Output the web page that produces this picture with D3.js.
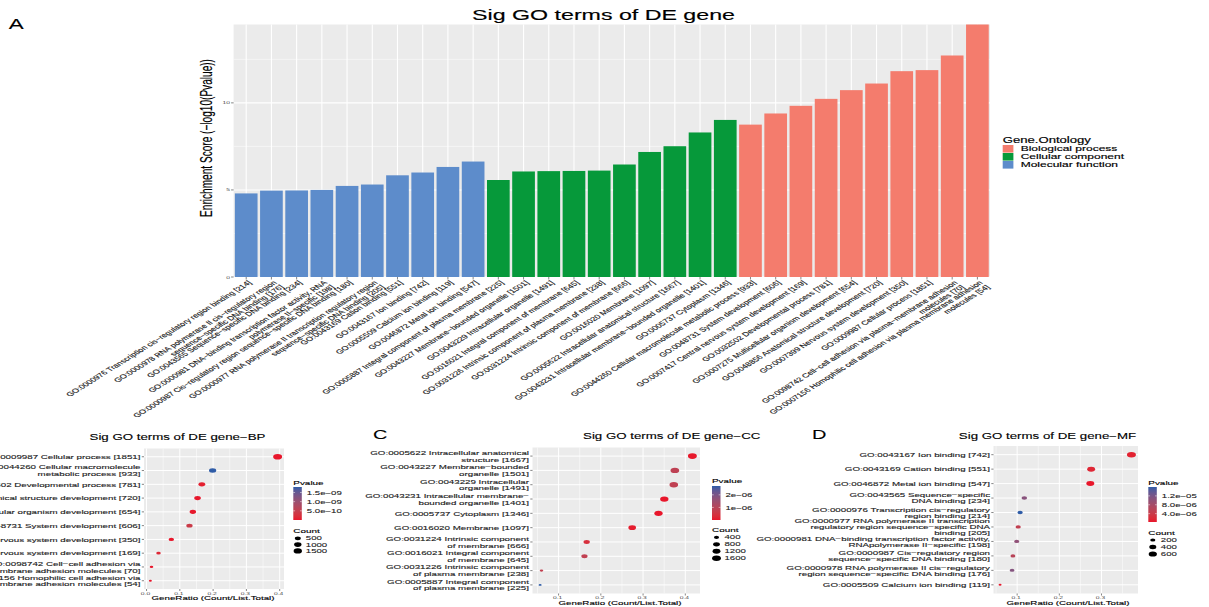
<!DOCTYPE html>
<html>
<head>
<meta charset="utf-8">
<script src="https://cdn.jsdelivr.net/npm/d3@7"></script>
<style>
    body { margin: 0; background: #fff; }
    svg { display: block; font-family: "Liberation Sans", Arial, Helvetica, sans-serif; }
</style>
</head>
<body>
<svg id="fig" width="1209" height="607"></svg>
<script>
// ---------------- data ----------------
var ontologies = ["Biological process", "Cellular component", "Molecular function"];
var ontologyColors = ["#F47C6D", "#06993A", "#5D8CCB"];

// Molecular function (bar order, ascending enrichment)
var mfBarLabels = [
    "GO:0000976 Transcription cis−regulatory region binding [214]",
    "GO:0000978 RNA polymerase II cis−regulatory region\nsequence−specific DNA binding [176]",
    "GO:0043565 Sequence−specific DNA binding [234]",
    "GO:0000981 DNA−binding transcription factor activity, RNA\npolymerase II−specific [198]",
    "GO:0000987 Cis−regulatory region sequence−specific DNA binding [180]",
    "GO:0000977 RNA polymerase II transcription regulatory region\nsequence−specific DNA binding [205]",
    "GO:0043169 Cation binding [551]",
    "GO:0043167 Ion binding [742]",
    "GO:0005509 Calcium ion binding [119]",
    "GO:0046872 Metal ion binding [547]"
];
var mfDotLabels = [
    "GO:0000976 Transcription cis−regulatory\nregion binding [214]",
    "GO:0000978 RNA polymerase II cis−regulatory\nregion sequence−specific DNA binding [176]",
    "GO:0043565 Sequence−specific\nDNA binding [234]",
    "GO:0000981 DNA−binding transcription factor activity,\nRNApolymerase II−specific [198]",
    "GO:0000987 Cis−regulatory region\nsequence−specific DNA binding [180]",
    "GO:0000977 RNA polymerase II transcription\nregulatory region sequence−specific DNA\nbinding [205]",
    "GO:0043169 Cation binding [551]",
    "GO:0043167 Ion binding [742]",
    "GO:0005509 Calcium ion binding [119]",
    "GO:0046872 Metal ion binding [547]"
];
var mfCounts = [214, 176, 234, 198, 180, 205, 551, 742, 119, 547];
var mfScores = [4.8, 4.96, 4.97, 5.0, 5.23, 5.31, 5.84, 6.0, 6.32, 6.63];
var mfPvalues = [1.6e-5, 1.1e-5, 1.07e-5, 1.0e-5, 5.9e-6, 4.9e-6, 1.4e-6, 1.0e-6, 4.8e-7, 2.3e-7];

// Cellular component
var ccBarLabels = [
    "GO:0005887 Integral component of plasma membrane [225]",
    "GO:0043227 Membrane−bounded organelle [1501]",
    "GO:0043229 Intracellular organelle [1491]",
    "GO:0016021 Integral component of membrane [645]",
    "GO:0031226 Intrinsic component of plasma membrane [238]",
    "GO:0031224 Intrinsic component of membrane [666]",
    "GO:0016020 Membrane [1097]",
    "GO:0005622 Intracellular anatomical structure [1667]",
    "GO:0043231 Intracellular membrane−bounded organelle [1401]",
    "GO:0005737 Cytoplasm [1346]"
];
var ccDotLabels = [
    "GO:0005887 Integral component\nof plasma membrane [225]",
    "GO:0043227 Membrane−bounded\norganelle [1501]",
    "GO:0043229 Intracellular\norganelle [1491]",
    "GO:0016021 Integral component\nof membrane [645]",
    "GO:0031226 Intrinsic component\nof plasma membrane [238]",
    "GO:0031224 Intrinsic component\nof membrane [666]",
    "GO:0016020 Membrane [1097]",
    "GO:0005622 Intracellular anatomical\nstructure [1667]",
    "GO:0043231 Intracellular membrane−\nbounded organelle [1401]",
    "GO:0005737 Cytoplasm [1346]"
];
var ccCounts = [225, 1501, 1491, 645, 238, 666, 1097, 1667, 1401, 1346];
var ccScores = [5.57, 6.06, 6.08, 6.09, 6.11, 6.46, 7.18, 7.51, 8.3, 9.02];
var ccPvalues = [2.7e-6, 8.7e-7, 8.3e-7, 8.1e-7, 7.8e-7, 3.5e-7, 6.6e-8, 3.1e-8, 5.0e-9, 9.5e-10];

// Biological process
var bpBarLabels = [
    "GO:0044260 Cellular macromolecule metabolic process [933]",
    "GO:0048731 System development [606]",
    "GO:0007417 Central nervous system development [169]",
    "GO:0032502 Developmental process [781]",
    "GO:0007275 Multicellular organism development [654]",
    "GO:0048856 Anatomical structure development [720]",
    "GO:0007399 Nervous system development [350]",
    "GO:0009987 Cellular process [1851]",
    "GO:0098742 Cell−cell adhesion via plasma−membrane adhesion\nmolecules [70]",
    "GO:0007156 Homophilic cell adhesion via plasma membrane adhesion\nmolecules [54]"
];
var bpDotLabels = [
    "GO:0044260 Cellular macromolecule\nmetabolic process [933]",
    "GO:0048731 System development [606]",
    "GO:0007417 Central nervous system development [169]",
    "GO:0032502 Developmental process [781]",
    "GO:0007275 Multicellular organism development [654]",
    "GO:0048856 Anatomical structure development [720]",
    "GO:0007399 Nervous system development [350]",
    "GO:0009987 Cellular process [1851]",
    "GO:0098742 Cell−cell adhesion via\nplasma−membrane adhesion molecules [70]",
    "GO:0007156 Homophilic cell adhesion via\nplasma membrane adhesion  molecules [54]"
];
var bpCounts = [933, 606, 169, 781, 654, 720, 350, 1851, 70, 54];
var bpScores = [8.75, 9.39, 9.83, 10.23, 10.73, 11.11, 11.82, 11.88, 12.72, 14.5];
var bpPvalues = [1.8e-9, 4.1e-10, 1.5e-10, 5.9e-11, 1.9e-11, 7.8e-12, 1.5e-12, 1.3e-12, 1.9e-13, 3.2e-15];

// list totals (GeneRatio = Count / List.Total) and axis / legend breaks
var bpTotal = 4700, ccTotal = 4000, mfTotal = 2000;
var bpRatioTicks = [0, 0.1, 0.2, 0.3, 0.4];
var ccRatioTicks = [0.1, 0.2, 0.3, 0.4];
var mfRatioTicks = [0.1, 0.2, 0.3];
var bpPTicks = [5e-10, 1e-9, 1.5e-9], bpPTickLabels = ["5.0e−10", "1.0e−09", "1.5e−09"];
var ccPTicks = [1e-6, 2e-6], ccPTickLabels = ["1e−06", "2e−06"];
var mfPTicks = [4e-6, 8e-6, 1.2e-5], mfPTickLabels = ["4.0e−06", "8.0e−06", "1.2e−05"];
var bpCountBreaks = [500, 1000, 1500];
var ccCountBreaks = [400, 800, 1200, 1600];
var mfCountBreaks = [200, 400, 600];
var scoreTicks = [0, 5, 10], scoreMinor = [2.5, 7.5, 12.5];

// ---------------- drawing ----------------
var K = 1.6; // the source figure is stretched horizontally
var svg = d3.select("#fig");
var LOW = "#E8162B", HIGH = "#2F5CA7";

function addText(parent, str, x, y, size, opts) {
    opts = opts || {};
    var tf = "translate(" + x + "," + y + ") scale(" + K + ",1)";
    if (opts.rotate) tf += " rotate(" + opts.rotate + ")";
    var fill = opts.fill || "#000";
    var t = parent.append("text")
        .attr("transform", tf)
        .attr("font-size", size)
        .attr("fill", fill)
        .attr("text-anchor", opts.anchor || "start");
    if (opts.bold) t.attr("stroke", fill).attr("stroke-width", opts.bold);
    var lines = str.split("\n"),
        lh = opts.lh || 1.1,
        dy0 = 0;
    if (opts.valign === "top") dy0 = 0.74;
    if (opts.valign === "middle") dy0 = 0.36 - (lines.length - 1) * lh / 2;
    lines.forEach(function(line, i) {
        t.append("tspan")
            .attr("x", 0)
            .attr("dy", (i === 0 ? dy0 : lh) + "em")
            .text(line);
    });
    return t;
}

// ===== panel A: bar chart =====
var bars = [];
[[mfBarLabels, mfScores, 2], [ccBarLabels, ccScores, 1], [bpBarLabels, bpScores, 0]].forEach(function(grp) {
    grp[0].forEach(function(lab, i) {
        bars.push({ label: lab, score: grp[1][i], onto: grp[2] });
    });
});

var aLeft = 233.6, aRight = 990, aTop = 24.5, aBottom = 277;
var xA = d3.scaleBand().domain(d3.range(bars.length)).range([aLeft, aRight])
    .paddingInner(0.1).paddingOuter(0.05);
var yA = d3.scaleLinear().domain([0, d3.max(bars, function(d) { return d.score; })])
    .range([aBottom, aTop]);

var gA = svg.append("g");
gA.append("rect").attr("x", aLeft).attr("y", aTop)
    .attr("width", aRight - aLeft).attr("height", aBottom - aTop).attr("fill", "#EBEBEB");
gA.selectAll(".minor").data(scoreMinor).join("line")
    .attr("x1", aLeft).attr("x2", aRight)
    .attr("y1", function(d) { return yA(d); }).attr("y2", function(d) { return yA(d); })
    .attr("stroke", "#fff").attr("stroke-width", 0.5);
gA.selectAll(".major").data(scoreTicks).join("line")
    .attr("x1", aLeft).attr("x2", aRight)
    .attr("y1", function(d) { return yA(d); }).attr("y2", function(d) { return yA(d); })
    .attr("stroke", "#fff").attr("stroke-width", 1.1);
gA.selectAll(".vgrid").data(bars).join("line")
    .attr("x1", function(d, i) { return xA(i) + xA.bandwidth() / 2; })
    .attr("x2", function(d, i) { return xA(i) + xA.bandwidth() / 2; })
    .attr("y1", aTop).attr("y2", aBottom)
    .attr("stroke", "#fff").attr("stroke-width", 1.1);
gA.selectAll(".bar").data(bars).join("rect")
    .attr("x", function(d, i) { return xA(i); })
    .attr("width", xA.bandwidth())
    .attr("y", function(d) { return yA(d.score); })
    .attr("height", function(d) { return aBottom - yA(d.score); })
    .attr("fill", function(d) { return ontologyColors[d.onto]; });

// axes of A
scoreTicks.forEach(function(v) {
    gA.append("line").attr("x1", aLeft - 2.5).attr("x2", aLeft)
        .attr("y1", yA(v)).attr("y2", yA(v)).attr("stroke", "#333").attr("stroke-width", 0.6);
    addText(gA, String(v), aLeft - 3.5, yA(v) + 1.5, 4.2, { anchor: "end", fill: "#4D4D4D" });
});
bars.forEach(function(d, i) {
    var cx = xA(i) + xA.bandwidth() / 2;
    gA.append("line").attr("x1", cx).attr("x2", cx).attr("y1", aBottom).attr("y2", aBottom + 2.5)
        .attr("stroke", "#333").attr("stroke-width", 0.6);
    addText(gA, d.label, cx + 1, aBottom + 3, 5.9,
        { anchor: "end", rotate: -45, valign: "top", lh: 1.05, fill: "#222", bold: 0.12 });
});
addText(gA, "Enrichment Score (−log10(Pvalue))", 206, 138, 10.1,
    { anchor: "middle", rotate: -90, valign: "middle", bold: 0.1 });
addText(svg, "Sig GO terms of DE gene", 603.5, 20, 14.5, { anchor: "middle", bold: 0.15 });
addText(svg, "A", 8.7, 29.3, 14, { bold: 0.1 });

// legend of A
addText(gA, "Gene.Ontology", 1002.7, 142.5, 8.2, { bold: 0.15 });
ontologies.forEach(function(name, i) {
    var ky = 145 + i * 8;
    gA.append("rect").attr("x", 1002.7).attr("y", ky).attr("width", 10.7).attr("height", 7.6)
        .attr("fill", ontologyColors[i]);
    addText(gA, name, 1020.7, ky + 6.2, 7.5, { bold: 0.15 });
});

// ===== panels B, C, D: dot plots =====
function dotPlot(o) {
    var n = o.counts.length;
    var order = d3.range(n).sort(function(a, b) { return o.counts[b] - o.counts[a]; });
    var ratios = o.counts.map(function(c) { return c / o.total; });
    var lo = d3.min(ratios), hi = d3.max(ratios), pad = (hi - lo) * 0.05;
    var x = d3.scaleLinear().domain([lo - pad, hi + pad]).range([o.x0, o.x1]);
    var y = d3.scalePoint().domain(order).range([o.y0, o.y1]).padding(0.6);
    var pExt = d3.extent(o.pvalues);
    var color = d3.scaleLinear().domain(pExt).range([LOW, HIGH]).interpolate(d3.interpolateLab);
    var cMin = d3.min(o.counts), cMax = d3.max(o.counts);
    var r = d3.scaleSqrt().domain([0, cMax - cMin]).range([0.95, 2.8]);

    var g = svg.append("g");
    g.append("rect").attr("x", o.x0).attr("y", o.y0)
        .attr("width", o.x1 - o.x0).attr("height", o.y1 - o.y0).attr("fill", "#EBEBEB");
    // minor vertical grid halfway between breaks
    var minor = [];
    var step = o.ticks[1] - o.ticks[0];
    for (var i = 0; i <= o.ticks.length; i++) {
        var m = o.ticks[0] - step / 2 + i * step;
        if (m > x.domain()[0] && m < x.domain()[1]) minor.push(m);
    }
    g.selectAll(".minor").data(minor).join("line")
        .attr("x1", function(d) { return x(d); }).attr("x2", function(d) { return x(d); })
        .attr("y1", o.y0).attr("y2", o.y1).attr("stroke", "#fff").attr("stroke-width", 0.5);
    g.selectAll(".vmajor").data(o.ticks).join("line")
        .attr("x1", function(d) { return x(d); }).attr("x2", function(d) { return x(d); })
        .attr("y1", o.y0).attr("y2", o.y1).attr("stroke", "#fff").attr("stroke-width", 1);
    g.selectAll(".hmajor").data(order).join("line")
        .attr("x1", o.x0).attr("x2", o.x1)
        .attr("y1", function(d) { return y(d); }).attr("y2", function(d) { return y(d); })
        .attr("stroke", "#fff").attr("stroke-width", 1);

    g.selectAll(".dot").data(d3.range(n)).join("ellipse")
        .attr("cx", function(i) { return x(ratios[i]); })
        .attr("cy", function(i) { return y(i); })
        .attr("rx", function(i) { return r(o.counts[i] - cMin) * K; })
        .attr("ry", function(i) { return r(o.counts[i] - cMin); })
        .attr("fill", function(i) { return color(o.pvalues[i]); });

    // y axis
    order.forEach(function(i) {
        g.append("line").attr("x1", o.x0 - 2.2).attr("x2", o.x0)
            .attr("y1", y(i)).attr("y2", y(i)).attr("stroke", "#333").attr("stroke-width", 0.6);
        addText(g, o.labels[i], o.x0 - 3.5, y(i), 6.1,
            { anchor: "end", valign: "middle", lh: o.lh || 1.1, fill: "#222", bold: 0.12 });
    });
    // x axis
    o.ticks.forEach(function(v) {
        g.append("line").attr("x1", x(v)).attr("x2", x(v)).attr("y1", o.y1).attr("y2", o.y1 + 2)
            .attr("stroke", "#333").attr("stroke-width", 0.6);
        addText(g, d3.format(".1f")(v), x(v) - 1, o.y1 + 5.5, 4.2, { anchor: "middle", fill: "#4D4D4D" });
    });
    addText(g, "GeneRatio (Count/List.Total)", o.xTitleX, o.xTitleY, 6.1, { anchor: "middle", bold: 0.12 });
    addText(g, o.title, o.titleX, o.titleY, 8.3, { anchor: "middle", bold: 0.12 });
    if (o.letter) addText(g, o.letter, o.letterX, o.titleY - 0.5, 12.5, { bold: 0.1 });

    // colour bar legend
    var lx = o.legX, bw = 8.5;
    addText(g, "Pvalue", lx, o.pTitleY, 6.2, { bold: 0.12 });
    var gid = "grad" + o.key;
    var grad = svg.append("defs").append("linearGradient").attr("id", gid)
        .attr("x1", 0).attr("y1", 1).attr("x2", 0).attr("y2", 0);
    d3.range(0, 1.0001, 0.1).forEach(function(t) {
        grad.append("stop").attr("offset", t)
            .attr("stop-color", color(pExt[0] + t * (pExt[1] - pExt[0])));
    });
    g.append("rect").attr("x", lx).attr("y", o.barTop).attr("width", bw)
        .attr("height", o.barBot - o.barTop).attr("fill", "url(#" + gid + ")");
    var cb = d3.scaleLinear().domain(pExt).range([o.barBot, o.barTop]);
    o.pTicks.forEach(function(v, k) {
        var ty = cb(v);
        g.append("line").attr("x1", lx).attr("x2", lx + 1.8).attr("y1", ty).attr("y2", ty)
            .attr("stroke", "#fff").attr("stroke-width", 0.5);
        g.append("line").attr("x1", lx + bw - 1.8).attr("x2", lx + bw).attr("y1", ty).attr("y2", ty)
            .attr("stroke", "#fff").attr("stroke-width", 0.5);
        addText(g, o.pTickLabels[k], lx + bw + 5, ty + 2.1, 6, { fill: "#222", bold: 0.1 });
    });

    // size legend
    addText(g, "Count", lx, o.cTitleY, 6.2, { bold: 0.12 });
    o.countBreaks.forEach(function(c, k) {
        var ky = o.keyY0 + k * o.keyStep;
        var rr = r(Math.max(0, c - cMin));
        g.append("ellipse").attr("cx", lx + 4.5).attr("cy", ky)
            .attr("rx", rr * K).attr("ry", rr).attr("fill", "#000");
        addText(g, String(c), lx + 12.5, ky + 2.1, 6, { fill: "#222", bold: 0.1 });
    });
}

dotPlot({
    key: "bp", labels: bpDotLabels, counts: bpCounts, pvalues: bpPvalues, total: bpTotal,
    ticks: bpRatioTicks, pTicks: bpPTicks, pTickLabels: bpPTickLabels, countBreaks: bpCountBreaks,
    x0: 144, x1: 284, y0: 448.5, y1: 589,
    title: "Sig GO terms of DE gene−BP", titleX: 177.5, titleY: 439.5,
    xTitleX: 213, xTitleY: 599.5,
    legX: 293.3, pTitleY: 485, barTop: 487, barBot: 520, cTitleY: 533, keyY0: 538.3, keyStep: 6.3
});
dotPlot({
    key: "cc", labels: ccDotLabels, counts: ccCounts, pvalues: ccPvalues, total: ccTotal,
    ticks: ccRatioTicks, pTicks: ccPTicks, pTickLabels: ccPTickLabels, countBreaks: ccCountBreaks,
    x0: 532.5, x1: 700, y0: 447.5, y1: 593.5,
    title: "Sig GO terms of DE gene−CC", titleX: 671.7, titleY: 439,
    letter: "C", letterX: 373,
    xTitleX: 620, xTitleY: 605,
    legX: 712, pTitleY: 483, barTop: 486, barBot: 520, cTitleY: 532, keyY0: 537.3, keyStep: 7
});
dotPlot({
    key: "mf", labels: mfDotLabels, counts: mfCounts, pvalues: mfPvalues, total: mfTotal,
    ticks: mfRatioTicks, pTicks: mfPTicks, pTickLabels: mfPTickLabels, countBreaks: mfCountBreaks,
    x0: 993.5, x1: 1138, y0: 446, y1: 593.5, lh: 1.0,
    title: "Sig GO terms of DE gene−MF", titleX: 1047.5, titleY: 439,
    letter: "D", letterX: 812,
    xTitleX: 1068, xTitleY: 605,
    legX: 1148.3, pTitleY: 485, barTop: 487, barBot: 522, cTitleY: 535, keyY0: 540, keyStep: 7
});
</script>
</body>
</html>
